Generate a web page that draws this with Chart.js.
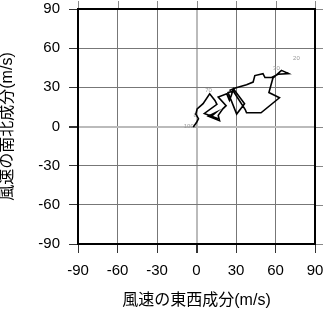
<!DOCTYPE html>
<html>
<head>
<meta charset="utf-8">
<script src="https://cdn.jsdelivr.net/npm/chart.js@4/dist/chart.umd.min.js"></script>
<style>
  html, body { margin: 0; padding: 0; background: #fff; }
  #wrap { width: 323px; height: 313px; }
</style>
</head>
<body>
<div id="wrap"><canvas id="chart-hodo"></canvas></div>
<script>
// 風速の東西成分 / 南北成分 (m/s), from the surface upward
const windU = [-2.5, 0, 1.5, -0.5, 0.5, 5, 10, 14, 15.5, 6, 16.5, 11, 15, 9, 17.5, 16.5, 20, 22.5, 16.5, 23, 25, 26.5, 28, 36.5, 30.5, 24, 28, 37, 38, 49, 63, 55, 58, 64.5, 70, 62, 57, 52, 50.5, 44.3, 43, 38, 29.5, 25];
const windV = [-0.5, 3, 6, 9.5, 13.5, 17.5, 25, 20, 17, 10, 6, 7.5, 11, 8, 4.5, 8.5, 13.5, 16, 22.5, 25, 20, 24, 29, 17.5, 9.5, 26, 27, 13, 10.5, 10.5, 22, 26, 37, 43, 40.5, 40, 37.5, 37.5, 40.5, 39, 34, 32, 29.5, 27.5];

// level labels
const levelText = ['1000', '8', '70', '30', '20'];
const levelU = [-4.6, -1.1, 9.1, 60.7, 75.9];
const levelV = [0.4, 8.7, 27.6, 44.4, 52];

const tickValues = [-90, -60, -30, 0, 30, 60, 90];

const fontFamily = "'Liberation Sans', Arial, 'Noto Sans CJK JP', sans-serif";

document.addEventListener('DOMContentLoaded', function() {
    const points = windU.map((u, i) => ({ x: u, y: windV[i] }));

    const framePlugin = {
        id: 'frame',
        beforeDatasetsDraw(chart) {
            const ctx = chart.ctx;
            const a = chart.chartArea;
            const xs = chart.scales.x, ys = chart.scales.y;
            ctx.save();
            // small ticks above the top and right of the frame
            ctx.strokeStyle = '#888';
            ctx.lineWidth = 1;
            tickValues.forEach(v => {
                const px = Math.round(xs.getPixelForValue(v)) + 0.5;
                ctx.beginPath(); ctx.moveTo(px, a.top); ctx.lineTo(px, a.top - 8); ctx.stroke();
                const py = Math.round(ys.getPixelForValue(v)) + 0.5;
                ctx.beginPath(); ctx.moveTo(a.right, py); ctx.lineTo(a.right + 8, py); ctx.stroke();
            });
            // level labels under the line
            ctx.fillStyle = '#999';
            ctx.font = "6px " + fontFamily;
            ctx.textAlign = 'center';
            ctx.textBaseline = 'middle';
            levelText.forEach((t, i) => {
                ctx.fillText(t, xs.getPixelForValue(levelU[i]), ys.getPixelForValue(levelV[i]));
            });
            // frame
            ctx.strokeStyle = '#000';
            ctx.lineWidth = 2;
            ctx.strokeRect(a.left, a.top, a.right - a.left, a.bottom - a.top);
            ctx.restore();
        }
    };

    const gridColor = ctx => (ctx.tick && ctx.tick.value === 0) ? '#bbbbbb' : '#777777';
    const gridWidth = ctx => (ctx.tick && ctx.tick.value === 0) ? 2 : 1;

    new Chart(document.getElementById('chart-hodo'), {
        type: 'scatter',
        data: {
            datasets: [{
                data: points,
                showLine: true,
                borderColor: '#000',
                borderWidth: 1.6,
                pointRadius: 0,
                tension: 0
            }]
        },
        options: {
            responsive: true,
            maintainAspectRatio: false,
            animation: false,
            layout: { padding: 0 },
            plugins: {
                legend: { display: false },
                tooltip: { enabled: false }
            },
            scales: {
                x: {
                    type: 'linear',
                    min: -90,
                    max: 90,
                    afterBuildTicks: s => { s.ticks = tickValues.map(v => ({ value: v })); },
                    afterFit: s => { s.height = 69; s.paddingLeft = 0; s.paddingRight = 8; },
                    ticks: { color: '#000', padding: 9, maxRotation: 0, font: { family: fontFamily, size: 15 } },
                    grid: { color: gridColor, lineWidth: gridWidth, tickColor: '#333', tickLength: 9 },
                    border: { display: true, color: '#000', width: 2 },
                    title: {
                        display: true,
                        text: '風速の東西成分(m/s)',
                        color: '#000',
                        padding: { top: 0, bottom: 4 },
                        font: { family: fontFamily, size: 16, lineHeight: 1 }
                    }
                },
                y: {
                    type: 'linear',
                    min: -90,
                    max: 90,
                    afterBuildTicks: s => { s.ticks = tickValues.map(v => ({ value: v })); },
                    afterFit: s => { s.width = 78; s.paddingTop = 9; s.paddingBottom = 0; },
                    ticks: { color: '#000', padding: 9, font: { family: fontFamily, size: 15 } },
                    grid: { color: gridColor, lineWidth: gridWidth, tickColor: '#333', tickLength: 9 },
                    border: { display: true, color: '#000', width: 2 },
                    title: {
                        display: true,
                        text: '風速の南北成分(m/s)',
                        color: '#000',
                        padding: { top: 0, bottom: 0 },
                        font: { family: fontFamily, size: 16, lineHeight: 1 }
                    }
                }
            }
        },
        plugins: [framePlugin]
    });
});
</script>
</body>
</html>
